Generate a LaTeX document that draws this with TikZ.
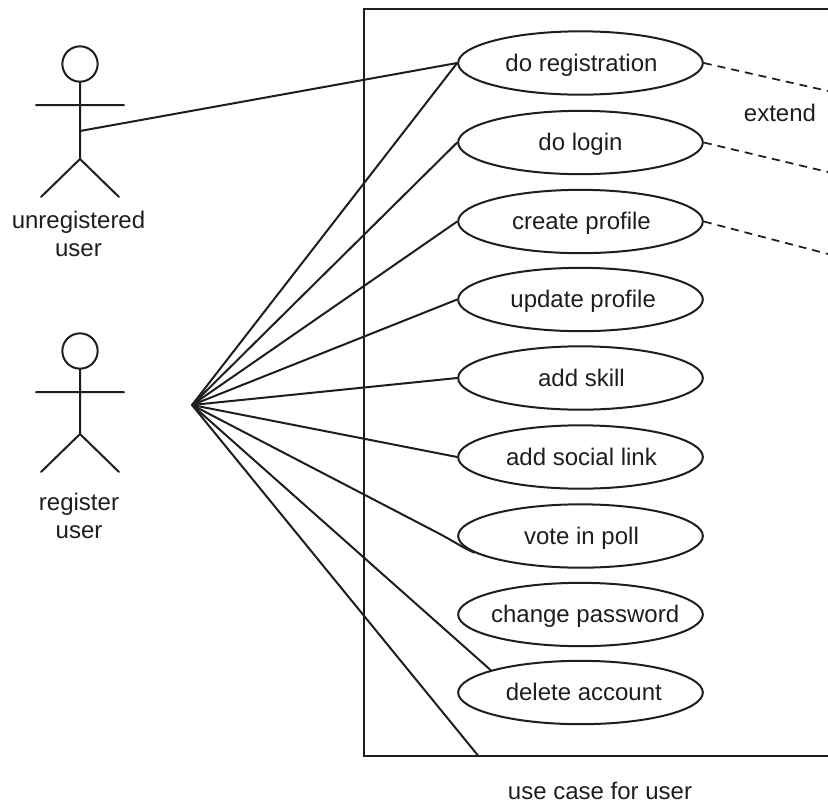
\documentclass[tikz,border=0pt]{standalone}
\usepackage{fontspec}
\setmainfont{Liberation Sans}
\usetikzlibrary{shapes.geometric}
\definecolor{ink}{HTML}{1E1E1E}
\newcommand{\uctext}[2][1.5pt]{\makebox[0pt]{\hspace*{#1}#2}}
\tikzset{
  x=0.75pt,y=-0.75pt,
  usecase/.style={draw=ink,line width=1.5pt,ellipse,fill=white,minimum width=183.5pt,minimum height=47.5pt,inner sep=0pt,text=ink,text height=12.5pt,text depth=0pt,font=\fontsize{18pt}{20pt}\selectfont},
  lbl/.style={inner sep=0pt,text=ink,align=center,font=\fontsize{18pt}{21.4pt}\selectfont},
  head/.style={draw=ink,line width=1.5pt,circle,minimum size=26.5pt,inner sep=0pt},
  limb/.style={draw=ink,line width=1.5pt,line cap=round},
  link/.style={draw=ink,line width=1.5pt},
  ext/.style={draw=ink,line width=1.3pt,dash pattern=on 6pt off 4.5pt}
}
\begin{document}
\begin{tikzpicture}
\useasboundingbox (0,0) rectangle (828,804);
\fill[white] (0,0) rectangle (828,804);
% system frame (runs off the right edge)
\coordinate (ftr) at (828,9);
\coordinate (ftl) at (364,9);
\coordinate (fbl) at (364,755.5);
\coordinate (fbr) at (828,755.5);
\draw[link] (ftr) -- (ftl) -- (fbl) -- (fbr);
% actors
\node[head] (h1) at (80,64) {};
\coordinate (a1l) at (36,105); \coordinate (a1r) at (124,105);
\coordinate (hip1) at (80,159); \coordinate (l1l) at (41,197); \coordinate (l1r) at (119,197);
\coordinate (chest1) at (80,131);
\draw[limb] (h1.south) -- (hip1) (a1l) -- (a1r) (l1l) -- (hip1) -- (l1r);
\node[head] (h2) at (80,351) {};
\coordinate (a2l) at (36,392); \coordinate (a2r) at (124,392);
\coordinate (hip2) at (80,434); \coordinate (l2l) at (41,472); \coordinate (l2r) at (119,472);
\draw[limb] (h2.south) -- (hip2) (a2l) -- (a2r) (l2l) -- (hip2) -- (l2r);
\node[lbl] (t1) at (78.5,234) {unregistered\\user};
\node[lbl] (t2) at (79,516) {register\\user};
% hub and free ends
\coordinate (hub) at (192,405);
\coordinate (bend) at (438,533);
\coordinate (fend) at (478,755.5);
% use cases
\node[usecase] (reg) at (580.5,63) {\uctext{do registration}};
\node[usecase] (log) at (580.5,142.5) {\uctext[0pt]{do login}};
\node[usecase] (cre) at (580.5,221.5) {\uctext{create profile}};
\node[usecase] (upd) at (580.5,299.5) {\uctext[4pt]{update profile}};
\node[usecase] (ski) at (580.5,378) {\uctext{add skill}};
\node[usecase] (soc) at (580.5,457) {\uctext{add social link}};
\node[usecase] (vot) at (580.5,536) {\uctext{vote in poll}};
\node[usecase] (pwd) at (580.5,614.5) {\uctext[7pt]{change password}};
\node[usecase] (del) at (580.5,692.5) {\uctext[5pt]{delete account}};
% associations
\draw[link] (chest1) -- (reg.west);
\draw[link] (hub) -- (reg.west);
\draw[link] (hub) -- (log.west);
\draw[link] (hub) -- (cre.west);
\draw[link] (hub) -- (upd.west);
\draw[link] (hub) -- (ski.west);
\draw[link] (hub) -- (soc.west);
\draw[link] (hub) -- (bend) .. controls (455,542) and (465,549) .. (vot.189);
\draw[link] (hub) -- (del.166);
\draw[link] (hub) -- (fend);
% extend
\coordinate (e1) at (828,91);
\coordinate (e2) at (828,172);
\coordinate (e3) at (828,254);
\draw[ext] (reg.east) -- (e1);
\draw[ext] (log.east) -- (e2);
\draw[ext] (cre.east) -- (e3);
\node[lbl] (x) at (780,113) {extend};
\node[lbl] (cap) at (600,791) {use case for user};
\end{tikzpicture}
\end{document}
